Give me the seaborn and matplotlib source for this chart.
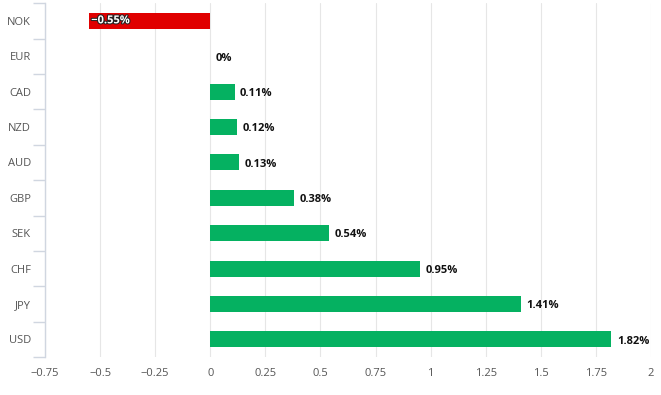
import pandas as pd
import matplotlib.pyplot as plt
import matplotlib.patheffects as pe
from matplotlib.ticker import MultipleLocator, FuncFormatter
import seaborn as sns

currencies = ["NOK", "EUR", "CAD", "NZD", "AUD", "GBP", "SEK", "CHF", "JPY", "USD"]
changes = [-0.55, 0.0, 0.11, 0.12, 0.13, 0.38, 0.54, 0.95, 1.41, 1.82]
labels = ["\u22120.55%", "0%", "0.11%", "0.12%", "0.13%", "0.38%", "0.54%", "0.95%", "1.41%", "1.82%"]
x_ticks = [-0.75, -0.5, -0.25, 0, 0.25, 0.5, 0.75, 1, 1.25, 1.5, 1.75, 2]

df = pd.DataFrame({"currency": currencies, "change": changes})
df["sign"] = ["neg" if v < 0 else "pos" for v in changes]

sns.set_style("white")
plt.rcParams['font.family'] = ['Open Sans', 'DejaVu Sans']

fig = plt.figure(figsize=(6.61, 3.95), dpi=100)
ax = fig.add_axes([0.068, 0.096, 0.917, 0.896])

sns.barplot(data=df, x="change", y="currency", hue="sign",
            palette={"neg": "#e00000", "pos": "#05b161"}, saturation=1,
            width=0.45, dodge=False, legend=False, linewidth=0, ax=ax)

ax.set_xlim(-0.75, 2)
ax.set_ylim(len(currencies) - 0.5, -0.5)
ax.set_xticks(x_ticks)
ax.xaxis.set_major_formatter(FuncFormatter(lambda v, p: f"{v:g}".replace("-", "\u2212")))
ax.grid(axis="x", color="#e6e6e6", linewidth=0.8)
ax.set_axisbelow(True)
for s in ["top", "right", "bottom"]:
    ax.spines[s].set_visible(False)
ax.spines["left"].set_color("#d0d6e0")
ax.spines["left"].set_linewidth(1)

ax.yaxis.set_minor_locator(MultipleLocator(1, offset=0.5))
ax.tick_params(axis="y", which="major", left=False, length=0, pad=10, labelsize=8, labelcolor="#555555")
ax.tick_params(axis="y", which="minor", left=True, length=9, color="#d0d6e0", width=1)
ax.tick_params(axis="x", length=0, pad=8, labelsize=8, labelcolor="#555555")
ax.set_xlabel("")
ax.set_ylabel("")

for i, (v, lab) in enumerate(zip(changes, labels)):
    if v < 0:
        ax.text(v + 0.01, i, lab, va="center", ha="left", color="white", fontsize=8,
                fontweight="bold",
                path_effects=[pe.withStroke(linewidth=1.5, foreground="#222222")])
    else:
        ax.text(v + 0.025, i + 0.05, lab, va="center", ha="left", color="#111111",
                fontsize=8, fontweight="bold")

plt.savefig("out.png", dpi=100)
